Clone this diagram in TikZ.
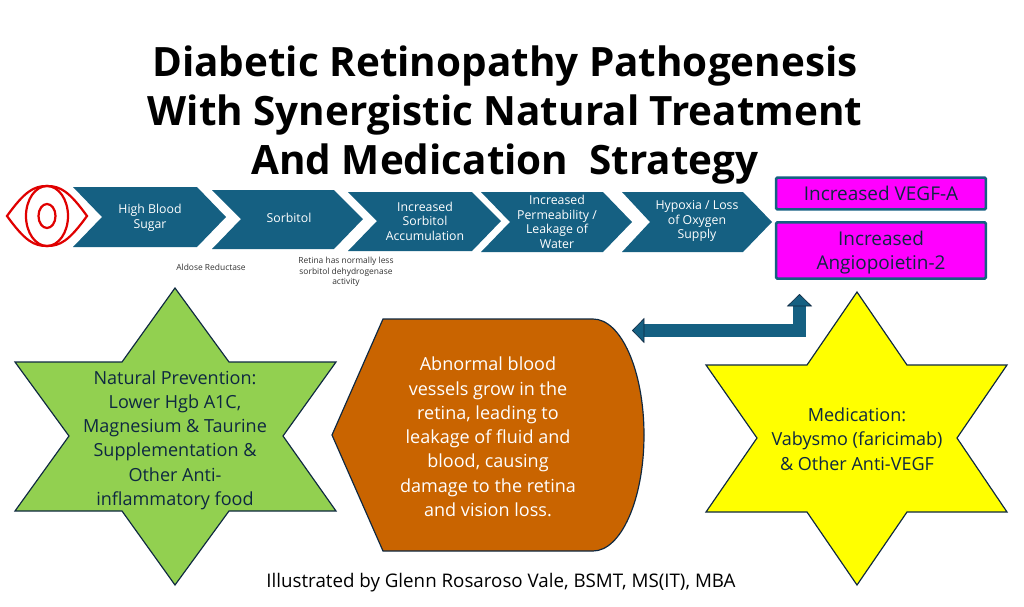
\documentclass[tikz,border=0pt]{standalone}
\usepackage{fontspec}
\setmainfont{Open Sans}
\usetikzlibrary{arrows.meta}
\definecolor{flowblue}{HTML}{156082}
\definecolor{flowdark}{HTML}{0E2841}
\definecolor{leafgreen}{HTML}{92D050}
\definecolor{burnt}{HTML}{C96400}
\definecolor{boxpink}{HTML}{FF00FF}
\definecolor{staryellow}{HTML}{FFFF00}
\definecolor{eyered}{HTML}{E00000}

\begin{document}
\begin{tikzpicture}[
  x=0.03cm, y=-0.03cm,
  every node/.style={align=center, inner sep=0pt},
  titletext/.style={font=\fontsize{34.5}{42}\selectfont\bfseries, text=black},
  flowchev/.style={fill=flowblue, draw=none},
  flowtext/.style={font=\fontsize{10.5}{12.4}\selectfont, text=white},
  smalltext/.style={font=\fontsize{7.2}{9}\selectfont, text=black!80},
  bodytext/.style={font=\fontsize{15.4}{20.7}\selectfont, text=flowdark},
  vegfbox/.style={rectangle, fill=boxpink, draw=flowblue, line width=2.2pt, rounded corners=1pt, minimum width=179pt, font=\fontsize{16.2}{20.9}\selectfont, text=flowdark},
  starshape/.style={draw=flowdark, line width=1pt, line join=miter},
  eyeline/.style={draw=eyered, line width=1.9pt},
  blockarrow/.style={draw=flowdark, double=flowblue, line width=0.5pt, double distance=10.4pt,
    {Triangle[length=10.5pt, width=21.5pt, fill=flowblue]}-{Triangle[length=10.5pt, width=21.5pt, fill=flowblue]}},
]
\useasboundingbox (0,0) rectangle (1024,606);

% ---- title ----
\node[titletext] (title) at (505,115) {Diabetic Retinopathy Pathogenesis\\With Synergistic Natural Treatment\\And Medication~~Strategy};

% ---- eye ----
\draw[eyeline] (7,216) .. controls (25,191) and (34,186) .. (47,186) .. controls (60,186) and (69,191) .. (87,216)
  .. controls (69,241) and (60,246) .. (47,246) .. controls (34,246) and (25,241) .. (7,216) -- cycle;
\draw[eyeline] (47,216) ellipse [x radius=21, y radius=30];
\draw[eyeline] (47,216) ellipse [x radius=8.5, y radius=12];

% ---- chevrons ----
\draw[flowchev] (73,187) -- (197,187) -- (226,217) -- (197,247) -- (73,247) -- (102,217) -- cycle;
\draw[flowchev] (212,190) -- (334,190) -- (363,219) -- (334,249) -- (212,249) -- (241,219) -- cycle;
\draw[flowchev] (348,192) -- (472,192) -- (501,221) -- (472,251) -- (348,251) -- (377,221) -- cycle;
\draw[flowchev] (481,192) -- (603,192) -- (632,222) -- (603,252) -- (481,252) -- (510,222) -- cycle;
\draw[flowchev] (622,192) -- (743,192) -- (772,222) -- (743,252) -- (622,252) -- (650,222) -- cycle;

\node[flowtext] (sugar)  at (150,218) {High Blood\\Sugar};
\node[flowtext] (sorb)   at (289,218) {Sorbitol};
\node[flowtext] (accum)  at (425,221) {Increased\\Sorbitol\\Accumulation};
\node[flowtext] (leak)   at (557,222) {Increased\\Permeability /\\Leakage of\\Water};
\node[flowtext] (hypox)  at (697,221) {Hypoxia / Loss\\of Oxygen\\Supply};

% ---- small notes ----
\node[smalltext] (aldose) at (211,267) {Aldose Reductase};
\node[smalltext] (dehyd)  at (346,272) {Retina has normally less\\sorbitol dehydrogenase\\activity};

% ---- boxes ----
\node[vegfbox, minimum height=27pt] (vegf) at (881,193.5) {Increased VEGF-A};
\node[vegfbox, minimum height=48pt, text height=33pt, text depth=0pt] (angio) at (881,250.5) {Increased\\Angiopoietin-2};

% ---- green star ----
\draw[starshape, fill=leafgreen] (175,288) -- (229,362) -- (336,362) -- (283,436) -- (336,511) -- (229,511)
  -- (175,585) -- (122,511) -- (15,511) -- (69,436) -- (15,362) -- (122,362) -- cycle;
\node[bodytext] (natural) at (175,440) {Natural Prevention:\\Lower Hgb A1C,\\Magnesium \& Taurine\\Supplementation \&\\Other Anti-\\inflammatory food};

% ---- orange block ----
\draw[starshape, fill=burnt] (332,435) -- (383,319) -- (593,319) arc[start angle=-90, end angle=90, x radius=51, y radius=116] -- (383,551) -- cycle;
\node[bodytext, text=white] (vessels) at (488,437) {Abnormal blood\\vessels grow in the\\retina, leading to\\leakage of fluid and\\blood, causing\\damage to the retina\\and vision loss.};

% ---- yellow star ----
\draw[starshape, fill=staryellow] (857,292) -- (907,365) -- (1007,365) -- (957,438) -- (1007,512) -- (907,512)
  -- (857,585) -- (807,512) -- (706,512) -- (757,438) -- (706,365) -- (807,365) -- cycle;
\node[bodytext] (medic) at (857,439) {Medication:\\Vabysmo (faricimab)\\\& Other Anti-VEGF};

% ---- bent arrow ----
\coordinate (arrleft) at (632,330.5);
\coordinate (arrup) at (799.5,294);
\draw[blockarrow] (arrleft) -| (arrup);

% ---- credit ----
\node[font=\fontsize{16}{18}\selectfont, text=black] (credit) at (501,583) {Illustrated by Glenn Rosaroso Vale, BSMT, MS(IT), MBA};

\end{tikzpicture}
\end{document}
